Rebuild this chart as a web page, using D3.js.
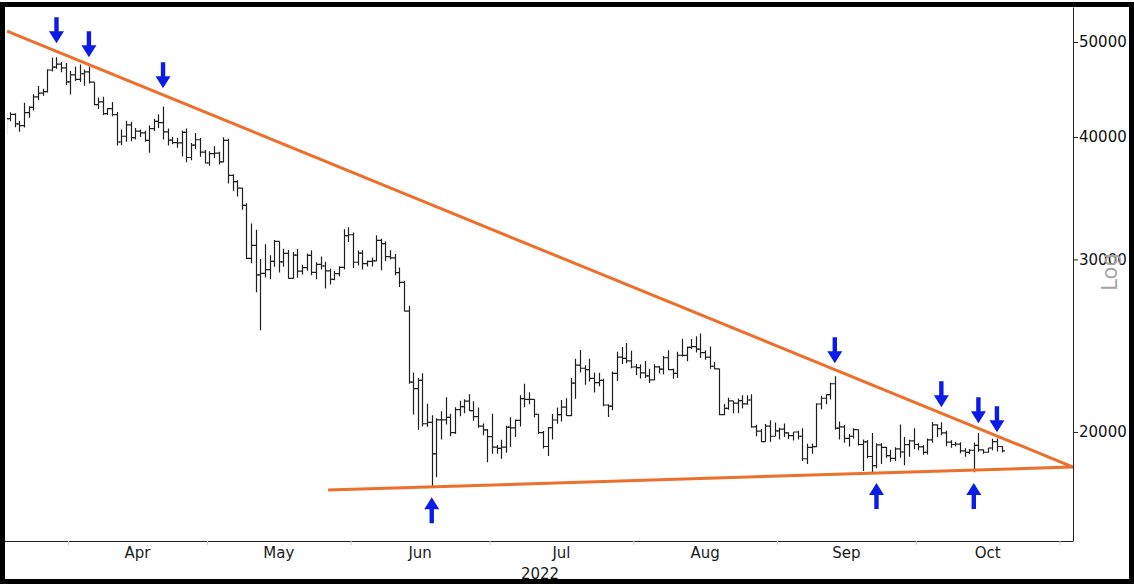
<!DOCTYPE html>
<html>
<head>
<meta charset="utf-8">
<script src="https://cdn.jsdelivr.net/npm/d3@7"></script>
<style>
  html, body { margin: 0; padding: 0; background: #fff; }
  svg { display: block; font-family: "DejaVu Sans", Verdana, sans-serif; }
</style>
</head>
<body>
<div id="container"></div>
<script>
const width = 1134,
  height = 584,
  margin = { top: 7, right: 61, bottom: 43, left: 7 };

/** -------------- DATA -------------- */

// first bar of the series, one bar per day after it
const firstDay = "2022-03-18";

// daily bars: [open, high, low, close]
const ohlc = [
  // March
  [40920, 42330, 40200, 41770], [41770, 42400, 41500, 42190], [42190, 42300, 40920, 41250],
  [41250, 41540, 40500, 41080], [41080, 43360, 40900, 42360], [42360, 43000, 41850, 42890],
  [42890, 44220, 42560, 43960], [43960, 45090, 43600, 44350], [44350, 44800, 44070, 44500],
  [44500, 46900, 44420, 46820], [46820, 48190, 46650, 47130], [47130, 48240, 46950, 47460],
  [47460, 47700, 46560, 47060], [47060, 47600, 45200, 45540],
  // April
  [45540, 46700, 44200, 46280], [46280, 47200, 45630, 45810], [45810, 47440, 45520, 46410],
  [46410, 46880, 45120, 46620], [46620, 47200, 45360, 45500], [45500, 45500, 43120, 43170],
  [43170, 43900, 42730, 43440], [43440, 43970, 42110, 42250], [42250, 42800, 42130, 42750],
  [42750, 43430, 42000, 42160], [42160, 42420, 39200, 39530], [39530, 40700, 39250, 40070],
  [40070, 41550, 39560, 41150], [41150, 41470, 39600, 39940], [39940, 40850, 39760, 40550],
  [40550, 40700, 40010, 40390], [40390, 40600, 39550, 39680], [39680, 41100, 38540, 40800],
  [40800, 41760, 40570, 41500], [41500, 42200, 40850, 41370], [41370, 42980, 39760, 40480],
  [40480, 40800, 39200, 39710], [39710, 39990, 39320, 39470], [39470, 39940, 39000, 39450],
  [39450, 40620, 38200, 40430], [40430, 40800, 37700, 38120], [38120, 39450, 37880, 39240],
  [39240, 40370, 38880, 39740], [39740, 39900, 38190, 38600], [38600, 38800, 37580, 37630],
  // May
  [37630, 38680, 37390, 38470], [38470, 39150, 38050, 38520], [38520, 38640, 37500, 37730],
  [37730, 39980, 37680, 39690], [39690, 39840, 35850, 36550], [36550, 36650, 35260, 36010],
  [36010, 36130, 34780, 35470], [35470, 35500, 33710, 34060], [34060, 34240, 30030, 30080],
  [30080, 32640, 29740, 31010], [31010, 32160, 27780, 28930], [28930, 30030, 25400, 29030],
  [29030, 31080, 28750, 29290], [29290, 30300, 28640, 29860], [29860, 31400, 29490, 31300],
  [31300, 31310, 29090, 29830], [29830, 30770, 29480, 30430], [30430, 30670, 28660, 28700],
  [28700, 30520, 28680, 30300], [30300, 30740, 28730, 29190], [29190, 29630, 28950, 29430],
  [29430, 30420, 29220, 30280], [30280, 30660, 28900, 29100], [29100, 29800, 28630, 29650],
  [29650, 30200, 29300, 29540], [29540, 29830, 28020, 29200], [29200, 29350, 28280, 28620],
  [28620, 29200, 28560, 29020], [29020, 29530, 28820, 29440], [29440, 32200, 29300, 31720],
  [31720, 32350, 31250, 31790],
  // June
  [31790, 31950, 29400, 29800], [29800, 30640, 29580, 30450], [30450, 30680, 29300, 29700],
  [29700, 29930, 29500, 29860], [29860, 30140, 29500, 29900], [29900, 31750, 29880, 31370],
  [31370, 31500, 29250, 31130], [31130, 31290, 29880, 30200], [30200, 30660, 30000, 30110],
  [30110, 30380, 28900, 29090], [29090, 29440, 28110, 28420], [28420, 28540, 26560, 26570],
  [26570, 26900, 22400, 22490], [22490, 23000, 20840, 22140], [22140, 22700, 20110, 22580],
  [22580, 22960, 20260, 20390], [20390, 21370, 20250, 20460], [20460, 20800, 17620, 19000],
  [19000, 20660, 17980, 20580], [20580, 21000, 19650, 20580], [20580, 21700, 20350, 20700],
  [20700, 20870, 19800, 19970], [19970, 21200, 19900, 21080], [21080, 21520, 20750, 21230],
  [21230, 21600, 20900, 21500], [21500, 21850, 21000, 21030], [21030, 21500, 20530, 20730],
  [20730, 21190, 20200, 20280], [20280, 20400, 19850, 20100], [20100, 20140, 18630, 19780],
  // July
  [19780, 20870, 19000, 19300], [19300, 19400, 19000, 19240], [19240, 19640, 18780, 19300],
  [19300, 20300, 19050, 20230], [20230, 20700, 19320, 20190], [20190, 20600, 19770, 20550],
  [20550, 21800, 20260, 21630], [21630, 22400, 21200, 21590], [21590, 21960, 21350, 21590],
  [21590, 21600, 20700, 20850], [20850, 20870, 19900, 19970], [19970, 20050, 19240, 19330],
  [19330, 20230, 18900, 20210], [20210, 20860, 19650, 20570], [20570, 21180, 20390, 20830],
  [20830, 21560, 20500, 21200], [21200, 21650, 20770, 20780], [20780, 22700, 20760, 22430],
  [22430, 23750, 21620, 23400], [23400, 24250, 23000, 23230], [23230, 23400, 22350, 23160],
  [23160, 23750, 22520, 22680], [22680, 23000, 21950, 22460], [22460, 22990, 22270, 22580],
  [22580, 22670, 21250, 21310], [21310, 21350, 20720, 21250], [21250, 23050, 21050, 22950],
  [22950, 24150, 22550, 23850], [23850, 24420, 23460, 23780], [23780, 24650, 23500, 23640],
  [23640, 24200, 23230, 23300],
  // August
  [23300, 23460, 22850, 23270], [23270, 23450, 22680, 22980], [22980, 23630, 22700, 22820],
  [22820, 23200, 22440, 22600], [22600, 23450, 22590, 23310], [23310, 23350, 22950, 23180],
  [23180, 23910, 22890, 23810], [23810, 24230, 23130, 23160], [23160, 23220, 22660, 22950],
  [22950, 24150, 22700, 23950], [23950, 24900, 23880, 23940], [23940, 24450, 23620, 24400],
  [24400, 24880, 24300, 24440], [24440, 25050, 24100, 24300], [24300, 25200, 23800, 24100],
  [24100, 24230, 23700, 23850], [23850, 24450, 23200, 23340], [23340, 23580, 23180, 23200],
  [23200, 23200, 20800, 20830], [20830, 21360, 20800, 21140], [21140, 21670, 21070, 21520],
  [21520, 21520, 20900, 21400], [21400, 21640, 20900, 21530], [21530, 21800, 21150, 21370],
  [21370, 21800, 21320, 21560], [21560, 21860, 20200, 20240], [20240, 20340, 19800, 20040],
  [20040, 20140, 19540, 19550], [19550, 20380, 19550, 20280], [20280, 20560, 19550, 19800],
  [19800, 20450, 19800, 20050],
  // September
  [20050, 20200, 19650, 20130], [20130, 20400, 19770, 19960], [19960, 19990, 19670, 19830],
  [19830, 20000, 19600, 20000], [20000, 20050, 19650, 19800], [19800, 20180, 18680, 18780],
  [18780, 19450, 18550, 19290], [19290, 19450, 19000, 19320], [19320, 21400, 19300, 21360],
  [21360, 21780, 21100, 21650], [21650, 21860, 21350, 21830], [21830, 22450, 21580, 22400],
  [22400, 22800, 20100, 20180], [20180, 20500, 19650, 20240], [20240, 20330, 19500, 19700],
  [19700, 19900, 19330, 19800], [19800, 20180, 19700, 20110], [20110, 20110, 19370, 19420],
  [19420, 19650, 18250, 19540], [19540, 19630, 18800, 18880], [18880, 19950, 18150, 18480],
  [18480, 19480, 18370, 19400], [19400, 19480, 18550, 19290], [19290, 19310, 18820, 18920],
  [18920, 19180, 18650, 18800], [18800, 19300, 18680, 19220], [19220, 20350, 18820, 19080],
  [19080, 19770, 18500, 19410], [19410, 19640, 18870, 19590], [19590, 20180, 19200, 19420],
  // October
  [19420, 19480, 19160, 19310], [19310, 19390, 18960, 19060], [19060, 19690, 18970, 19630],
  [19630, 20470, 19500, 20340], [20340, 20370, 19750, 20160], [20160, 20460, 19850, 19960],
  [19960, 20060, 19340, 19530], [19530, 19610, 19270, 19420], [19420, 19550, 19330, 19440],
  [19440, 19520, 19030, 19130], [19130, 19250, 18870, 19060], [19060, 19220, 18990, 19160],
  [19160, 19510, 18190, 19380], [19380, 19950, 19090, 19180], [19180, 19210, 19000, 19070],
  [19070, 19270, 19060, 19260], [19260, 19680, 19160, 19550], [19550, 19700, 19100, 19330],
  [19330, 19350, 19060, 19130]
];

// trend lines: [date, price] at each end
const resistance = [["2022-03-18T19:40Z", 51290], ["2022-11-03T22:00Z", 18420]];
const support = [["2022-05-27T03:00Z", 17450], ["2022-11-03T22:00Z", 18420]];

// arrow tips: [date, price]
const downArrows = [
  ["2022-03-29", 49850], ["2022-04-05", 48240], ["2022-04-21", 44850],
  ["2022-09-13", 23510], ["2022-10-06", 21200], ["2022-10-14", 20420], ["2022-10-18", 19990]
];
const upArrows = [["2022-06-18", 17160], ["2022-09-22", 17740], ["2022-10-13", 17740]];

// axes
const priceTicks = [20000, 30000, 40000, 50000];
const monthStarts = ["2022-04-01", "2022-05-01", "2022-06-01", "2022-07-01",
  "2022-08-01", "2022-09-01", "2022-10-01", "2022-11-01"];
const monthLabels = ["Apr", "May", "Jun", "Jul", "Aug", "Sep", "Oct"];
const yearLabel = "2022";

/** -------------- SCALES -------------- */

const x = d3.scaleUtc(
  [new Date("2022-03-18T19:40Z"), new Date("2022-11-03T22:00Z")],
  [margin.left, width - margin.right]
);

const y = d3.scaleLog(
  [15480, 54290],
  [height - margin.bottom, margin.top]
);

const mid = s => d3.utcHour.offset(new Date(s + "T00:00Z"), 12);
const start = new Date(firstDay + "T00:00Z");
const bars = ohlc.map((d, i) => ({
  date: d3.utcHour.offset(d3.utcDay.offset(start, i), 12),
  o: d[0], h: d[1], l: d[2], c: d[3]
}));

/** -------------- APPEND TO DOM -------------- */

const svg = d3.select("#container")
  .append("svg")
  .attr("width", width)
  .attr("height", height);

svg.append("rect")
  .attr("width", width)
  .attr("height", height)
  .attr("fill", "#fff");

svg.append("clipPath")
    .attr("id", "plot")
  .append("rect")
    .attr("x", margin.left)
    .attr("y", margin.top)
    .attr("width", width - margin.left - margin.right)
    .attr("height", height - margin.top - margin.bottom);

const plot = svg.append("g").attr("clip-path", "url(#plot)");

// OHLC bars
plot.append("g")
    .attr("stroke", "#1e1e1e")
    .attr("stroke-width", 1.2)
    .attr("fill", "none")
  .selectAll("path")
  .data(bars)
  .join("path")
    .attr("d", d => {
      const cx = Math.round(x(d.date)) + 0.5;
      return `M${cx},${y(d.h)}V${y(d.l)}` +
        `M${cx - 2.5},${y(d.o)}H${cx}` +
        `M${cx},${y(d.c)}H${cx + 2.5}`;
    });

// trend lines
const line = d3.line()
  .x(d => x(new Date(d[0])))
  .y(d => y(d[1]));

plot.selectAll(".trend")
  .data([resistance, support])
  .join("path")
    .attr("class", "trend")
    .attr("d", line)
    .attr("fill", "none")
    .attr("stroke", "#ec6f2c")
    .attr("stroke-width", 3);

// arrows (tip at the data point)
const arrowDown = "M0,0L-7.5,-12L-2.2,-12L-2.2,-26L2.2,-26L2.2,-12L7.5,-12Z";
const arrowUp = "M0,0L-7.5,12L-2.2,12L-2.2,26L2.2,26L2.2,12L7.5,12Z";

svg.append("g")
  .selectAll("path")
  .data([
    ...downArrows.map(d => ({ d, shape: arrowDown })),
    ...upArrows.map(d => ({ d, shape: arrowUp }))
  ])
  .join("path")
    .attr("transform", a => `translate(${x(mid(a.d[0]))},${y(a.d[1])})`)
    .attr("d", a => a.shape)
    .attr("fill", "#0b1ce6");

// x axis: month ticks, labels centred in each month
const monthDates = monthStarts.map(s => new Date(s + "T00:00Z"));

const xAxis = svg.append("g")
  .attr("transform", `translate(0,${height - margin.bottom})`)
  .call(d3.axisBottom(x).tickValues(monthDates).tickFormat("").tickSize(4).tickSizeOuter(0));

xAxis.select(".domain").attr("stroke", "#222").attr("d", `M0,0.5H${width - margin.right}`);
xAxis.selectAll(".tick line").attr("stroke", "#c8c8c8");

svg.append("g")
    .attr("font-size", 15)
    .attr("fill", "#1a1a1a")
    .attr("text-anchor", "middle")
  .selectAll("text")
  .data(monthLabels)
  .join("text")
    .attr("x", (d, i) => (x(monthDates[i]) + x(monthDates[i + 1])) / 2)
    .attr("y", 558)
    .text(d => d);

svg.append("text")
  .attr("x", (margin.left + width - margin.right) / 2)
  .attr("y", 579)
  .attr("text-anchor", "middle")
  .attr("font-size", 15)
  .attr("fill", "#1a1a1a")
  .text(yearLabel);

// right log axis
const yAxis = svg.append("g")
  .attr("transform", `translate(${width - margin.right},0)`)
  .call(d3.axisRight(y).tickValues(priceTicks).tickFormat(d3.format("d"))
    .tickSize(5).tickPadding(1).tickSizeOuter(0));

yAxis.select(".domain").attr("stroke", "#222");
yAxis.selectAll(".tick line").attr("stroke", "#222");
yAxis.selectAll(".tick text")
  .attr("font-size", 15)
  .attr("font-family", "DejaVu Sans, sans-serif")
  .attr("fill", "#111");

svg.append("text")
  .attr("transform", "translate(1110,272) rotate(-90)")
  .attr("text-anchor", "middle")
  .attr("dy", "0.35em")
  .attr("font-size", 21)
  .attr("fill", "#a6a6a6")
  .text("Log");

// outer frame
svg.append("rect")
  .attr("x", 2.5)
  .attr("y", 4.5)
  .attr("width", width - 5)
  .attr("height", height - 7)
  .attr("fill", "none")
  .attr("stroke", "#000")
  .attr("stroke-width", 5);
</script>
</body>
</html>
